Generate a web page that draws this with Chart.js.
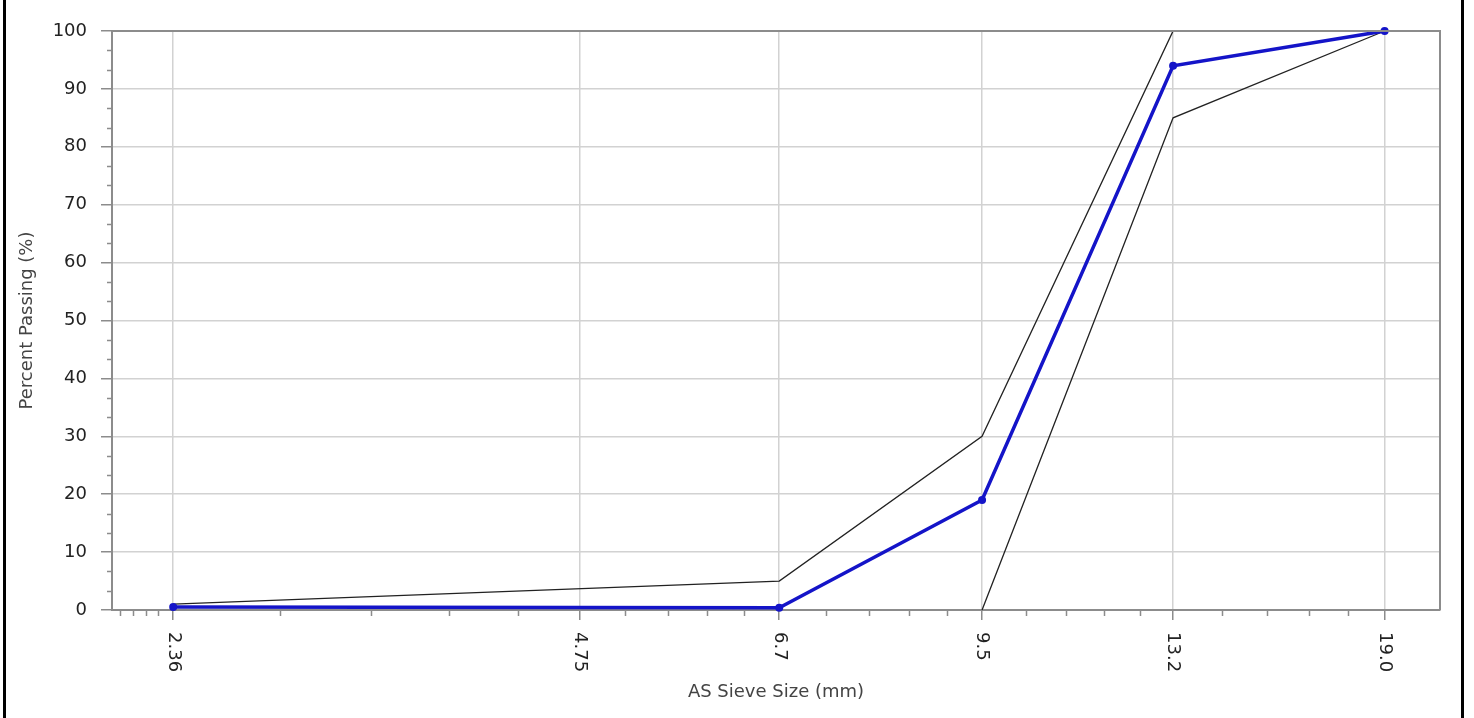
<!DOCTYPE html>
<html>
<head>
<meta charset="utf-8">
<script src="https://cdn.jsdelivr.net/npm/chart.js@4.4.1/dist/chart.umd.min.js"></script>
<style>
  body { margin: 0; background: #fff; }
  .wrap { position: relative; width: 1474px; height: 718px; }
  .edge { position: absolute; top: 0; width: 3px; height: 718px; background: #000; }
</style>
</head>
<body>
<div class="wrap">
  <canvas id="grading" width="1474" height="718"></canvas>
  <div class="edge" style="left:3px"></div>
  <div class="edge" style="left:1461px"></div>
</div>
<script>
// sieve sizes (mm) and their axis labels
const sieves = [2.36, 4.75, 6.7, 9.5, 13.2, 19.0];
const sieveLabels = ['2.36', '4.75', '6.7', '9.5', '13.2', '19.0'];

// sieves that were tested, percent passing and the spec envelope
const testSieves = [2.36, 6.7, 9.5, 13.2, 19.0];
const passing = [0.5, 0.4, 19, 94, 100];
const upperLimit = [1, 5, 30, 100, 100];
const lowerLimit = [null, null, 0, 85, 100];

const yTicks = [0, 10, 20, 30, 40, 50, 60, 70, 80, 90, 100];

// small ticks between the labelled sieves
const xMinor = [2.154, 2.202, 2.251, 2.30,
  2.838, 3.316, 3.794, 4.272,
  5.14, 5.53, 5.92, 6.31,
  7.26, 7.82, 8.38, 8.94,
  10.24, 10.98, 11.72, 12.46,
  14.36, 15.52, 16.68, 17.84];
const yMinor = [];
for (let i = 0; i < 30; i++) { if (i % 3) yMinor.push(i * 10 / 3); }

const pts = (xs, ys) => xs.map((x, i) => ({x: x, y: ys[i]}));

const axisGrey = '#8c8c8c';
const font = {family: 'DejaVu Sans', size: 18};

const extras = {
  id: 'extras',
  afterDraw(chart) {
    const {ctx, chartArea: a, scales: {x, y}} = chart;
    ctx.save();
    // box round the plot
    ctx.strokeStyle = axisGrey;
    ctx.lineWidth = 2;
    ctx.beginPath();
    ctx.moveTo(a.left, a.top);
    ctx.lineTo(a.right, a.top);
    ctx.lineTo(a.right, a.bottom);
    ctx.stroke();
    // minor ticks
    ctx.lineWidth = 1.5;
    ctx.beginPath();
    xMinor.forEach(v => {
      const px = Math.round(x.getPixelForValue(v)) + 0.5;
      ctx.moveTo(px, a.bottom);
      ctx.lineTo(px, a.bottom + 6);
    });
    yMinor.forEach(v => {
      const py = Math.round(y.getPixelForValue(v)) + 0.5;
      ctx.moveTo(a.left, py);
      ctx.lineTo(a.left - 5, py);
    });
    ctx.stroke();
    // sieve labels, turned clockwise
    ctx.fillStyle = '#222';
    ctx.font = '18px "DejaVu Sans"';
    ctx.textAlign = 'left';
    ctx.textBaseline = 'middle';
    sieves.forEach((v, i) => {
      ctx.save();
      ctx.translate(x.getPixelForValue(v), a.bottom + 22);
      ctx.rotate(Math.PI / 2);
      ctx.fillText(sieveLabels[i], 0, 0);
      ctx.restore();
    });
    ctx.restore();
  }
};

new Chart(document.getElementById('grading'), {
  type: 'line',
  data: {
    datasets: [{
      label: 'Percent Passing',
      data: pts(testSieves, passing),
      borderColor: '#1414c8',
      backgroundColor: '#1414c8',
      borderWidth: 3.5,
      pointRadius: 4,
      pointBorderWidth: 0,
      tension: 0
    }, {
      label: 'Upper Limit',
      data: pts(testSieves, upperLimit),
      borderColor: '#222',
      borderWidth: 1.3,
      pointRadius: 0
    }, {
      label: 'Lower Limit',
      data: pts(testSieves, lowerLimit),
      borderColor: '#222',
      borderWidth: 1.3,
      pointRadius: 0
    }]
  },
  options: {
    responsive: false,
    animation: false,
    clip: false,
    layout: {padding: {left: 6, top: 31, right: 34, bottom: 0}},
    plugins: {legend: {display: false}, tooltip: {enabled: false}},
    scales: {
      x: {
        type: 'logarithmic',
        bounds: 'data',
        min: 2.124,
        max: 20.9,
        afterBuildTicks: s => { s.ticks = sieves.map(v => ({value: v})); },
        afterFit: s => { s.height = 108; },
        ticks: {display: false},
        grid: {color: '#d2d2d2', lineWidth: 1.5, tickLength: 10, tickColor: axisGrey, tickWidth: 1.5},
        border: {color: axisGrey, width: 2},
        title: {display: true, text: 'AS Sieve Size (mm)', color: '#444', font: font, padding: {top: 0, bottom: 15}}
      },
      y: {
        min: 0,
        max: 100,
        afterBuildTicks: s => { s.ticks = yTicks.map(v => ({value: v})); },
        afterFit: s => { s.width = 106; },
        ticks: {color: '#222', font: font, padding: 14},
        grid: {color: '#d2d2d2', lineWidth: 1.5, tickLength: 11, tickColor: axisGrey, tickWidth: 1.5},
        border: {color: axisGrey, width: 2},
        title: {display: true, text: 'Percent Passing (%)', color: '#444', font: font, padding: {top: 11, bottom: 0}}
      }
    }
  },
  plugins: [extras]
});
</script>
</body>
</html>
